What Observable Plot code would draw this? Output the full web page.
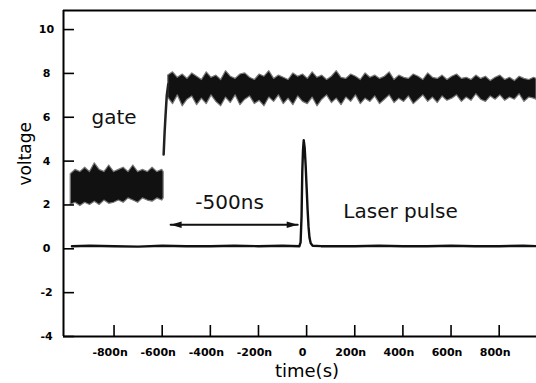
<!DOCTYPE html>
<html><head><meta charset="utf-8">
<script src="https://cdn.jsdelivr.net/npm/d3@7"></script>
<script src="https://cdn.jsdelivr.net/npm/@observablehq/plot@0.6"></script>
<style>body{margin:0;background:#fff}</style>
</head><body><div id="chart"></div>
<script>
// Axes
const xDomain = [-1010, 955];
const yDomain = [-4, 10.87];
const xTicks = [-800, -600, -400, -200, 0, 200, 400, 600, 800];
const xTickLabels = ["-800n", "-600n", "-400n", "-200n", "0", "200n", "400n", "600n", "800n"];
const yTicks = [-4, -2, 0, 2, 4, 6, 8, 10];
const yTickLabels = ["-4", "-2", "0", "2", "4", "6", "8", "10"];

// Gate signal, low level (noise envelope)
const gateLowT = [-980, -960, -940, -920, -900, -880, -860, -840, -820, -800, -780, -760, -740, -720, -700, -680, -660, -640, -620, -600, -594];
const gateLowTop = [3.4, 3.6, 3.5, 3.7, 3.5, 3.9, 3.6, 3.5, 3.8, 3.5, 3.6, 3.7, 3.5, 3.8, 3.5, 3.6, 3.5, 3.7, 3.5, 3.6, 3.5];
const gateLowBottom = [2.0, 2.1, 1.95, 2.1, 2.0, 2.15, 2.0, 2.2, 2.05, 2.1, 2.2, 2.1, 2.3, 2.2, 2.1, 2.3, 2.2, 2.15, 2.3, 2.2, 2.3];

// Gate rising edge
const gateRiseT = [-594, -590, -586, -581, -575];
const gateRiseV = [4.3, 5.3, 6.1, 7.0, 7.5];

// Gate signal, high level (noise envelope)
const gateHighT = [-575, -555, -535, -515, -495, -475, -455, -435, -415, -395, -375, -355, -335, -315, -295, -275, -255, -235, -215, -195, -175, -155, -135, -115, -95, -75, -55, -35, -15, 5, 25, 45, 65, 85, 105, 125, 145, 165, 185, 205, 225, 245, 265, 285, 305, 325, 345, 365, 385, 405, 425, 445, 465, 485, 505, 525, 545, 565, 585, 605, 625, 645, 665, 685, 705, 725, 745, 765, 785, 805, 825, 845, 865, 885, 905, 925, 945, 955];
const gateHighTop = [
  7.9, 8.05, 7.8, 7.95, 7.75, 8.0, 7.85, 7.7, 8.05, 7.8,
  7.9, 7.7, 8.1, 7.85, 7.75, 7.95, 8.0, 7.8, 7.7, 7.95,
  7.85, 8.1, 7.75, 7.9, 7.8, 7.7, 8.0, 7.85, 7.95, 7.75,
  8.05, 7.8, 7.9, 7.7, 7.85, 8.1, 7.8, 7.75, 7.95, 7.85,
  7.7, 8.0, 7.8, 7.9, 7.75, 7.85, 8.05, 7.7, 7.9, 7.8,
  7.75, 7.95, 7.85, 7.7, 8.0, 7.8, 7.75, 7.9, 7.7, 7.85,
  7.95, 7.75, 7.8, 7.7, 7.9, 7.75, 7.85, 7.65, 7.8, 7.9,
  7.7, 7.8, 7.65, 7.85, 7.75, 7.7, 7.8, 7.75];
const gateHighBottom = [
  6.9, 6.6, 7.0, 6.5, 6.8, 6.95, 6.55, 6.85, 6.6, 7.0,
  6.7, 6.5, 6.9, 6.65, 7.0, 6.55, 6.8, 6.95, 6.6, 6.75,
  6.5, 6.9, 6.7, 7.0, 6.6, 6.85, 6.55, 6.95, 6.7, 6.6,
  6.9, 6.5, 6.8, 7.0, 6.65, 6.85, 6.55, 6.9, 6.7, 7.0,
  6.6, 6.85, 6.7, 6.95, 6.6, 6.8, 7.0, 6.65, 6.85, 6.7,
  6.95, 6.6, 6.8, 7.0, 6.7, 6.9, 6.65, 6.95, 6.75, 6.85,
  7.0, 6.7, 6.9, 6.75, 7.05, 6.8, 6.7, 6.95, 6.8, 7.0,
  6.75, 6.9, 6.8, 7.05, 6.7, 6.9, 6.85, 6.8];

// Laser pulse trace
const laserT = [-975, -900, -800, -700, -600, -500, -400, -300, -200, -100, -30, -25, -21, -18, -15, -12, -8, -4, 0, 4, 8, 12, 17, 25, 60, 100, 200, 300, 400, 500, 600, 700, 800, 900, 955];
const laserV = [0.12, 0.14, 0.12, 0.1, 0.14, 0.12, 0.12, 0.14, 0.12, 0.14, 0.12, 0.3, 1.5, 3.5, 4.5, 4.95, 4.6, 3.8, 2.8, 1.8, 1.0, 0.5, 0.25, 0.14, 0.12, 0.12, 0.12, 0.14, 0.12, 0.12, 0.14, 0.12, 0.12, 0.14, 0.12];

// Annotations
const arrowT = [-565, -37];
const arrowV = [1.1, 1.1];
const labelTexts = ["gate", "-500ns", "Laser pulse"];
const labelT = [-800, -320, 390];
const labelV = [6.0, 2.1, 1.7];

const lowData = gateLowT.map((t, i) => ({t, lo: gateLowBottom[i], hi: gateLowTop[i]}));
const highData = gateHighT.map((t, i) => ({t, lo: gateHighBottom[i], hi: gateHighTop[i]}));
const riseData = gateRiseT.map((t, i) => ({t, v: gateRiseV[i]}));
const laserData = laserT.map((t, i) => ({t, v: laserV[i]}));
const arrowData = arrowT.map((t, i) => ({t, v: arrowV[i]}));
const headData = [{t: arrowT[0], v: arrowV[0], r: 180}, {t: arrowT[1], v: arrowV[1], r: 0}];
const labelData = labelTexts.map((s, i) => ({s, t: labelT[i], v: labelV[i]}));

const arrowHead = {draw(ctx) { ctx.moveTo(0, 0); ctx.lineTo(-11, -3.2); ctx.lineTo(-11, 3.2); ctx.closePath(); }};

const W = 536, H = 383, ML = 63, MR = 0, MT = 10, MB = 47, TICK = 11;

const chart = Plot.plot({
  width: W, height: H,
  marginLeft: ML, marginRight: MR, marginTop: MT, marginBottom: MB,
  style: {fontFamily: "DejaVu Sans", background: "white", color: "black", overflow: "visible"},
  x: {domain: xDomain, label: null},
  y: {domain: yDomain, label: null},
  marks: [
    Plot.areaY(lowData, {x: "t", y1: "lo", y2: "hi", fill: "#111", stroke: "#777", strokeWidth: 1.2}),
    Plot.areaY(highData, {x: "t", y1: "lo", y2: "hi", fill: "#111", stroke: "#777", strokeWidth: 1.2}),
    Plot.line(riseData, {x: "t", y: "v", stroke: "#222", strokeWidth: 2.5}),
    Plot.line(laserData, {x: "t", y: "v", stroke: "#111", strokeWidth: 2.4}),
    Plot.line(arrowData, {x: "t", y: "v", stroke: "#111", strokeWidth: 2}),
    Plot.dot(headData, {x: "t", y: "v", rotate: "r", symbol: arrowHead, fill: "#111", stroke: "none"}),
    Plot.text(labelData, {x: "t", y: "v", text: "s", fontSize: 20, fill: "#111"}),
    // frame lines
    Plot.ruleX([xDomain[0]], {strokeWidth: 2}),
    Plot.ruleY([yDomain[0]], {strokeWidth: 2}),
    Plot.ruleY([yDomain[1]], {strokeWidth: 2}),
    // inward tick marks
    Plot.tickY(yTicks, {y: (d) => d, strokeWidth: 1.6, insetRight: W - ML - MR - TICK}),
    Plot.tickX(xTicks, {x: (d) => d, strokeWidth: 1.6, insetTop: H - MT - MB - TICK}),
    // tick labels
    Plot.axisX({ticks: xTicks, tickFormat: (d) => xTickLabels[xTicks.indexOf(d)], tickSize: 0, tickPadding: 12, fontSize: 11, fontWeight: "bold", dx: -4}),
    Plot.axisY({ticks: yTicks, tickFormat: (d) => yTickLabels[yTicks.indexOf(d)], tickSize: 0, tickPadding: 17, textAnchor: "middle", fontSize: 11, fontWeight: "bold"}),
    Plot.text(["voltage"], {frameAnchor: "left", rotate: -90, dx: -38, dy: 12, fontSize: 17}),
    Plot.text(["time(s)"], {frameAnchor: "bottom", dx: 7, dy: 40, fontSize: 18})
  ]
});
document.getElementById("chart").appendChild(chart);
</script>
</body></html>
